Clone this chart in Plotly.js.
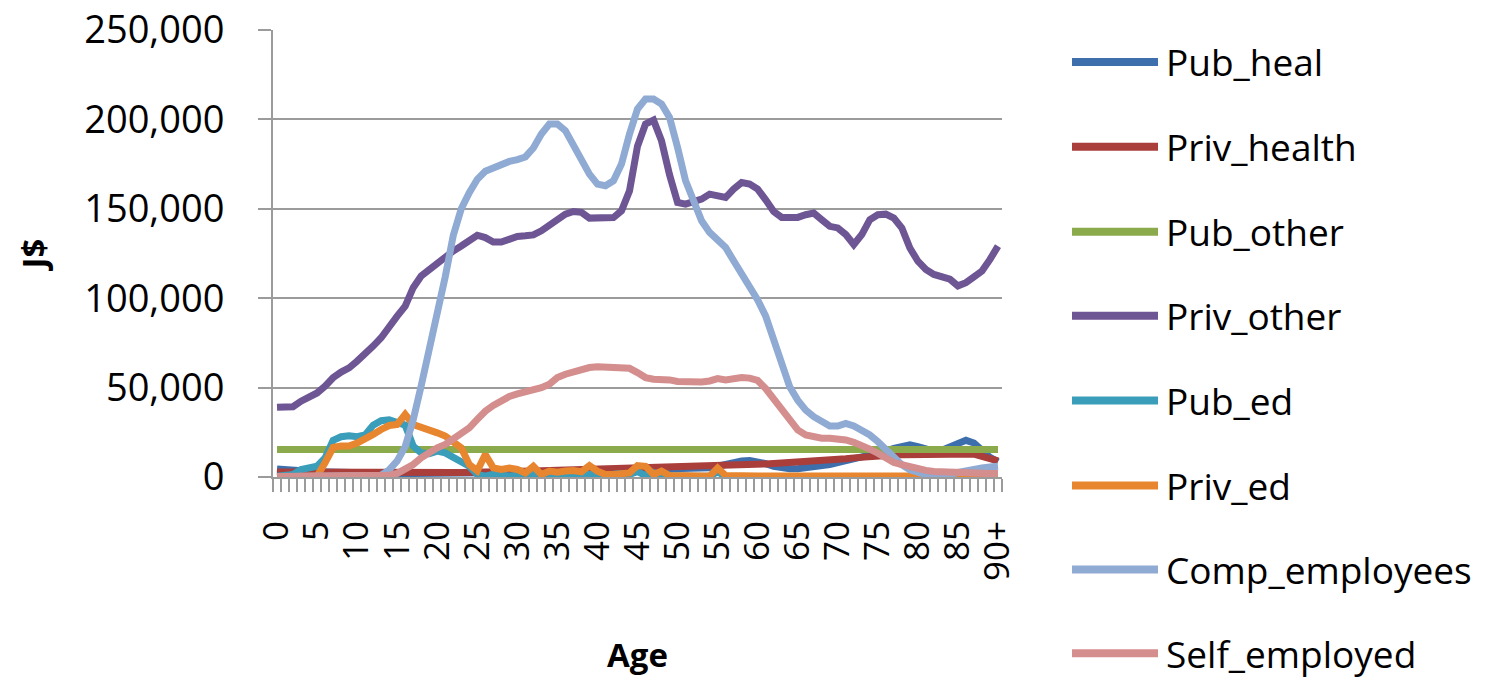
<!DOCTYPE html>
<html>
<head>
<meta charset="utf-8">
<script src="https://cdn.plot.ly/plotly-3.0.1.min.js"></script>
<style>
  html, body { margin: 0; padding: 0; background: #ffffff; }
  #chart { width: 1507px; height: 681px; }
</style>
</head>
<body>
<div id="chart"></div>
<script>
// ---- Data ----
const ages = [0,1,2,3,4,5,6,7,8,9,10,11,12,13,14,15,16,17,18,19,20,21,22,23,24,25,26,27,28,29,30,31,32,33,34,35,36,37,38,39,40,41,42,43,44,45,46,47,48,49,50,51,52,53,54,55,56,57,58,59,60,61,62,63,64,65,66,67,68,69,70,71,72,73,74,75,76,77,78,79,80,81,82,83,84,85,86,87,88,89,90];
const tickAges = [0,5,10,15,20,25,30,35,40,45,50,55,60,65,70,75,80,85,90];
const tickLabels = ['0','5','10','15','20','25','30','35','40','45','50','55','60','65','70','75','80','85','90+'];
const seriesNames = ['Pub_heal','Priv_health','Pub_other','Priv_other','Pub_ed','Priv_ed','Comp_employees','Self_employed'];

const pubHeal = [4500,4000,3800,3500,3200,3000,2800,2600,2500,2400,2300,2200,2100,2000,2000,1900,1900,1900,1800,1800,1800,1800,1800,1900,1900,2000,2000,2100,2200,2300,2400,2500,2600,2700,2800,2900,3000,3100,3200,3300,3400,3500,3600,3700,3800,3900,4000,4000,4100,4200,4300,4400,4600,4800,5200,6000,7200,8200,9000,9200,8800,7500,6000,5000,4600,4600,5000,5600,6200,7000,8000,9000,10000,11000,12000,13000,14500,16000,17500,18000,17000,15500,14500,15000,17000,19500,20500,19000,15000,11000,8500];
const privHealth = [2800,2700,2600,2600,2600,2600,2600,2600,2600,2600,2600,2600,2600,2500,2500,2500,2500,2500,2500,2500,2500,2500,2500,2500,2500,2700,2800,2900,3000,3100,3200,3300,3400,3500,3600,3800,4000,4200,4400,4600,4800,4900,5000,5100,5200,5300,5400,5500,5600,5700,5800,5900,6000,6100,6200,6300,6500,6700,6800,7000,7100,7300,7500,7700,7900,8100,8300,8500,8800,9100,9600,10200,10700,11200,11700,12000,12200,12300,12400,12500,12500,12600,12800,13000,13200,13400,13500,12800,11500,10000,9000];
const pubOther = [15400,15400,15400,15400,15400,15400,15400,15400,15400,15400,15400,15400,15400,15400,15400,15400,15400,15400,15400,15400,15400,15400,15400,15400,15400,15400,15400,15400,15400,15400,15400,15400,15400,15400,15400,15400,15400,15400,15400,15400,15400,15400,15400,15400,15400,15400,15400,15400,15400,15400,15400,15400,15400,15400,15400,15400,15400,15400,15400,15400,15400,15400,15400,15400,15400,15400,15400,15400,15400,15400,15400,15400,15400,15400,15400,15400,15400,15400,15400,15400,15400,15400,15400,15400,15400,15400,15400,15400,15400,15400,15400];
const privOther = [39000,39000,39300,42400,44700,47000,50800,55500,58700,61000,64800,68600,73200,77900,84400,90000,95600,105900,112400,116100,119900,122700,126400,129200,132000,135200,133900,131400,131400,133300,134500,134900,135400,137700,140500,143700,147000,148500,148000,144800,144800,145500,145100,148900,160000,185000,197400,199600,188000,169000,153500,152600,154000,155400,158200,157300,156300,161000,164700,163800,161000,155000,148500,145200,144800,145200,146700,147600,143900,140200,139300,135600,130000,135600,143900,146700,147000,144800,139300,128100,120700,116100,113300,112000,110600,106900,108700,111900,115200,121700,129100];
const pubEd = [500,600,1400,4200,5100,6000,10700,20500,22500,23000,22500,23500,29000,31500,32000,31000,29000,17300,13500,13000,14500,13500,10700,8900,6000,1400,500,1500,800,600,1000,800,2300,500,1000,800,1000,1200,800,1500,1000,800,1500,2000,1500,3000,800,2500,800,500,500,400,400,400,500,2800,400,300,300,300,300,300,300,200,200,200,200,200,200,200,200,200,200,200,200,200,200,200,200,200,200,200,200,200,200,200,200,200,200,200,200];
const privEd = [0,0,0,0,0,500,8000,16500,17300,17300,19000,21000,23800,26600,28800,29400,35000,29400,27500,25700,24700,22900,20000,16300,7000,3500,12600,5100,4200,5000,4200,2300,6000,1400,3300,2700,3300,3600,2900,6400,3300,1400,1400,2300,2300,6400,6000,1400,3300,800,500,500,500,500,500,5000,800,500,500,500,500,500,500,500,500,500,500,500,500,500,500,500,500,500,500,500,500,500,500,500,500,500,500,500,500,500,500,500,500,500,500];
const compEmployees = [200,200,200,200,200,200,200,200,200,200,200,200,400,1000,4000,9000,17000,32000,51000,71000,90000,112000,135000,150000,159000,166500,171000,173000,175000,176500,177500,179000,184000,191800,197400,197400,193700,185300,176900,169400,163800,162900,165700,175000,191800,205800,211400,211400,208600,201100,184300,165700,154500,143300,136800,132100,128400,120900,114000,107000,99000,90000,77000,61500,50400,43000,37400,33700,31000,28500,28500,30000,28500,26300,23500,19800,15200,10600,6900,4000,2200,1300,700,700,1300,2600,3700,4400,5000,5600,6000];
const selfEmployed = [300,300,300,300,300,300,300,300,300,300,300,300,300,300,1000,2000,4000,7000,10700,14000,16300,18200,21000,23800,27500,32200,36800,40000,43000,45000,46500,47500,49000,50000,51900,55600,57500,59000,60300,61200,61600,61600,61600,61500,60800,58400,55600,54700,54700,54300,53400,53200,53200,53200,53700,55000,54300,55000,55600,55300,54000,49400,43900,37400,31900,26300,23500,22200,21700,21700,21500,20700,19400,18000,15600,13300,10600,8100,6900,5600,4400,3700,3100,2800,2600,2600,2600,2200,2200,1900,1900];

const seriesValues = [pubHeal, privHealth, pubOther, privOther, pubEd, privEd, compEmployees, selfEmployed];

// ---- Styles ----
const colors = ['#3E6FAD','#A93E3B','#8AAA4B','#6E5594','#3A9DB9','#E8852F','#8FAAD3','#D48E8D'];
const FONT = '"Open Sans", "Liberation Sans", sans-serif';
const GRID = '#9b9b9b';

const traces = seriesNames.map((name, i) => ({
  type: 'scatter',
  mode: 'lines',
  name: name,
  x: ages,
  y: seriesValues[i],
  line: { color: colors[i], width: 7 },
  showlegend: false,
  hoverinfo: 'x+y+name'
}));

// plot area in pixels
const W = 1507, H = 681;
const L = 273, R = 1002, T = 30, B = 477.5;
const pxX = px => (px - L) / (R - L);
const pxY = py => (B - py) / (B - T);

// manual legend (long line samples like the original)
const legendRows = [62, 147, 232, 316, 401, 486, 570, 654];
const shapes = [];
const annotations = [];
seriesNames.forEach((name, i) => {
  shapes.push({
    type: 'line', xref: 'paper', yref: 'paper',
    x0: pxX(1072), x1: pxX(1158), y0: pxY(legendRows[i]), y1: pxY(legendRows[i]),
    line: { color: colors[i], width: 8 }
  });
  annotations.push({
    xref: 'paper', yref: 'paper', x: pxX(1164), y: pxY(legendRows[i]),
    xanchor: 'left', yanchor: 'middle', showarrow: false,
    text: name, font: { family: FONT, size: 37, color: '#000' }
  });
});

const layout = {
  width: W, height: H,
  margin: { l: L, r: W - R, t: T, b: H - B, pad: 0 },
  paper_bgcolor: '#ffffff',
  plot_bgcolor: '#ffffff',
  font: { family: FONT, color: '#000' },
  showlegend: false,
  xaxis: {
    type: 'linear',
    range: [-0.5, 90.5],
    tickmode: 'array',
    tickvals: tickAges,
    ticktext: tickLabels,
    tickangle: -90,
    ticks: '',
    ticklabelstandoff: 28,
    tickfont: { family: FONT, size: 35, color: '#000' },
    showgrid: false,
    zeroline: false,
    showline: true,
    linecolor: GRID,
    linewidth: 2,
    minor: { tickmode: 'linear', tick0: -0.5, dtick: 1, ticks: 'outside', ticklen: 13, tickwidth: 2, tickcolor: GRID, showgrid: false },
    title: { text: '<b>Age</b>', font: { family: FONT, size: 33, color: '#000' }, standoff: 64 },
    automargin: false,
    fixedrange: true
  },
  yaxis: {
    range: [0, 250000],
    tickmode: 'linear',
    tick0: 0,
    dtick: 50000,
    tickformat: ',d',
    ticks: 'outside',
    ticklen: 13,
    tickwidth: 2,
    tickcolor: GRID,
    ticklabelstandoff: 26,
    tickfont: { family: FONT, size: 38, color: '#000' },
    showgrid: true,
    gridcolor: GRID,
    gridwidth: 2,
    zeroline: false,
    showline: true,
    linecolor: GRID,
    linewidth: 2,
    title: { text: '<b>J$</b>', font: { family: FONT, size: 33, color: '#000' }, standoff: 28 },
    automargin: false,
    fixedrange: true
  },
  shapes: shapes,
  annotations: annotations
};

Plotly.newPlot('chart', traces, layout, { displayModeBar: false, staticPlot: true });
</script>
</body>
</html>
